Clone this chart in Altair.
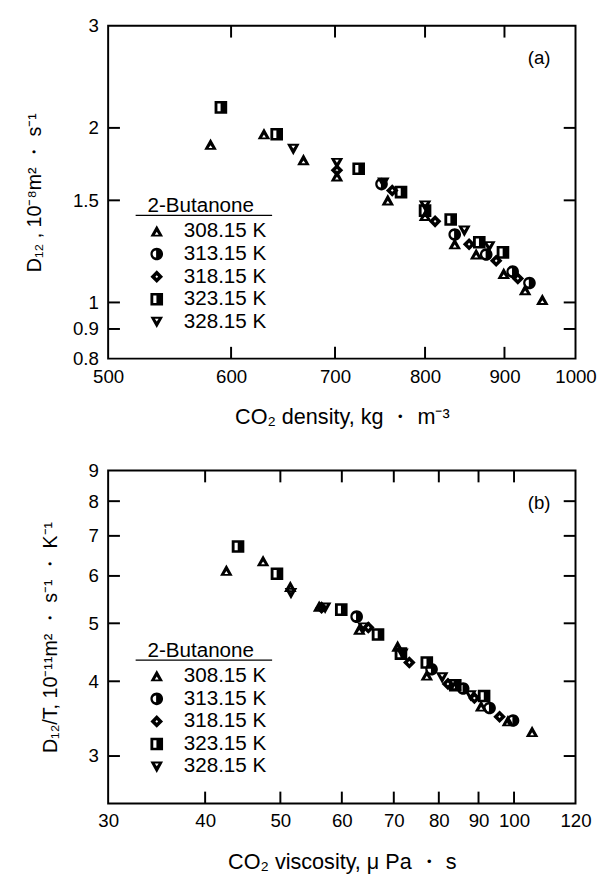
import altair as alt
import pandas as pd

temps = ["308.15 K", "313.15 K", "318.15 K", "323.15 K", "328.15 K"]

# ---- panel (a): CO2 density [kg/m3] vs D12 [1e-8 m2/s]
dens_308 = [582, 630, 668, 702, 757, 800, 836, 863, 899, 928, 952]
d12_308 = [1.87, 1.95, 1.76, 1.65, 1.50, 1.41, 1.26, 1.21, 1.12, 1.05, 1.01]
dens_313 = [750, 836, 876, 911, 934]
d12_313 = [1.60, 1.31, 1.21, 1.13, 1.08]
dens_318 = [702, 762, 812, 854, 889, 918]
d12_318 = [1.69, 1.56, 1.38, 1.26, 1.18, 1.10]
dens_323 = [591, 642, 725, 772, 800, 831, 867, 898]
d12_323 = [2.17, 1.95, 1.70, 1.55, 1.44, 1.39, 1.27, 1.22]
dens_328 = [658, 702, 752, 800, 848, 880]
d12_328 = [1.84, 1.74, 1.61, 1.47, 1.33, 1.25]

# ---- panel (b): CO2 viscosity [uPa s] vs D12/T [1e-11 m2/(s K)]
visc_308 = [42.6, 47.5, 51.5, 56.1, 63.2, 70.8, 77.2, 84.0, 90.7, 98.2, 105.5]
dt_308 = [6.12, 6.35, 5.75, 5.33, 4.88, 4.57, 4.09, 3.94, 3.63, 3.43, 3.29]
visc_313 = [62.7, 78.3, 86.0, 93.0, 99.7]
dt_313 = [5.13, 4.19, 3.89, 3.61, 3.44]
visc_318 = [56.5, 64.9, 73.3, 82.2, 88.9, 95.8]
dt_318 = [5.31, 4.92, 4.30, 3.96, 3.75, 3.49]
visc_323 = [44.1, 49.5, 59.9, 66.8, 71.5, 77.2, 84.0, 91.5]
dt_323 = [6.72, 6.05, 5.27, 4.79, 4.45, 4.30, 3.94, 3.78]
visc_328 = [51.6, 57.1, 64.0, 71.8, 80.8, 87.9]
dt_328 = [5.62, 5.31, 4.92, 4.45, 4.06, 3.79]

# axis tick labels and inner tick marks
a_xlabels = [500, 600, 700, 800, 900, 1000]
a_ylabels = [0.8, 0.9, 1, 1.5, 2, 3]
a_xticks = [600, 700, 800, 900]
a_yticks = [0.9, 1, 1.5, 2]
b_xlabels = [30, 40, 50, 60, 70, 80, 90, 100, 120]
b_ylabels = [3, 4, 5, 6, 7, 8, 9]
b_xticks = [40, 50, 60, 70, 80, 90, 100]
b_yticks = [3, 4, 5, 6, 7, 8]

legend_title = "2-Butanone"

# marker glyphs: filled outlines with small holes (opposite winding)
shapes = [
    "M0,-1L1,0.8L-1,0.8Z M0,0.05L-0.3,0.5L0.3,0.5Z",
    "M-1,0A1,1 0 1,1 1,0A1,1 0 1,1 -1,0Z M-0.1,-0.55A0.55,0.55 0 0,0 -0.1,0.55Z",
    "M0,-1L1,0L0,1L-1,0Z M0,-0.22L-0.22,0L0,0.22L0.22,0Z",
    "M-1,-1L1,-1L1,1L-1,1Z M-0.55,-0.6L-0.55,0.6L-0.05,0.6L-0.05,-0.6Z",
    "M-1,-0.8L1,-0.8L0,1Z M-0.3,-0.5L0,-0.05L0.3,-0.5Z",
]

FONT = "Liberation Sans"
W, H = 476, 339
TL = 12
MS = 165


def build(xs, ys):
    rows = []
    for t, xv, yv in zip(temps, xs, ys):
        for a, b in zip(xv, yv):
            rows.append({"T": t, "x": a, "y": b})
    return pd.DataFrame(rows)


def panel(df, xdom, ydom, xlabels, ylabels, xticks, yticks, xtitle, ytitle, tag, xf, yf):
    xs = alt.Scale(type="log", domain=xdom, nice=False)
    ys = alt.Scale(type="log", domain=ydom, nice=False)
    xax = alt.Axis(values=xlabels, format=xf, ticks=False, domain=False, grid=False,
                   labelFlush=False, labelOverlap=False, labelPadding=9,
                   labelFontSize=19, labelFont=FONT, labelColor="black",
                   title=xtitle, titleFontSize=22, titleFont=FONT,
                   titleFontWeight="normal", titlePadding=21, titleColor="black")
    yax = alt.Axis(values=ylabels, format=yf, ticks=False, domain=False, grid=False,
                   labelFlush=False, labelOverlap=False, labelPadding=10,
                   labelFontSize=19, labelFont=FONT, labelColor="black",
                   title=ytitle, titleFontSize=20, titleFont=FONT,
                   titleFontWeight="normal", titlePadding=28, titleColor="black")

    pts = alt.Chart(df).mark_point(filled=True, size=MS, opacity=1, strokeWidth=0).encode(
        x=alt.X("x:Q", scale=xs, axis=xax),
        y=alt.Y("y:Q", scale=ys, axis=yax),
        color=alt.value("black"),
        shape=alt.Shape("T:N", scale=alt.Scale(domain=temps, range=shapes),
                        legend=alt.Legend(title=None, orient="none",
                                          legendX=39, legendY=199, padding=0,
                                          labelFontSize=21,
                                          labelFont=FONT, labelColor="black",
                                          labelOffset=17, rowPadding=1,
                                          symbolSize=MS, symbolFillColor="black",
                                          symbolStrokeWidth=0, symbolOpacity=1)),
    )
    # inward tick marks on all four sides
    xt = pd.DataFrame({"x": xticks})
    yt = pd.DataFrame({"y": yticks})
    tk = dict(color="black", thickness=2, size=TL, opacity=1)
    bx = alt.Chart(xt).mark_tick(orient="vertical", **tk).encode(
        x=alt.X("x:Q", scale=xs), y=alt.value(H - TL / 2))
    tx = alt.Chart(xt).mark_tick(orient="vertical", **tk).encode(
        x=alt.X("x:Q", scale=xs), y=alt.value(TL / 2))
    ly = alt.Chart(yt).mark_tick(orient="horizontal", **tk).encode(
        y=alt.Y("y:Q", scale=ys), x=alt.value(TL / 2))
    ry = alt.Chart(yt).mark_tick(orient="horizontal", **tk).encode(
        y=alt.Y("y:Q", scale=ys), x=alt.value(W - TL / 2))
    under = alt.Chart(pd.DataFrame({"k": [0]})).mark_rule(color="black", strokeWidth=1.3).encode(
        x=alt.value(28), x2=alt.value(167), y=alt.value(193))
    ltitle = alt.Chart(pd.DataFrame({"t": [legend_title]})).mark_text(
        fontSize=21, font=FONT, color="black", align="left", baseline="alphabetic").encode(
        text="t:N", x=alt.value(40), y=alt.value(190))
    lab = alt.Chart(pd.DataFrame({"t": [tag]})).mark_text(
        fontSize=19, font=FONT, color="black").encode(
        text="t:N", x=alt.value(439), y=alt.value(33))
    return alt.layer(pts, bx, tx, ly, ry, under, ltitle, lab).properties(width=W, height=H)


dfa = build([dens_308, dens_313, dens_318, dens_323, dens_328],
            [d12_308, d12_313, d12_318, d12_323, d12_328])
dfb = build([visc_308, visc_313, visc_318, visc_323, visc_328],
            [dt_308, dt_313, dt_318, dt_323, dt_328])

pa = panel(dfa, [500, 1000], [0.8, 3], a_xlabels, a_ylabels, a_xticks, a_yticks,
           "CO₂ density, kg ・ m⁻³", "D₁₂ , 10⁻⁸m² ・ s⁻¹", "(a)", "d", "~g")
pb = panel(dfb, [30, 120], [2.5, 9], b_xlabels, b_ylabels, b_xticks, b_yticks,
           "CO₂ viscosity, μ Pa ・ s", "D₁₂/T, 10⁻¹¹m² ・ s⁻¹ ・ K⁻¹", "(b)", "d", "d")

chart = alt.vconcat(pa, pb, spacing=33).resolve_scale(
    x="independent", y="independent", shape="independent"
).resolve_legend(shape="independent").configure(
    padding={"left": 16, "top": 0, "right": 5, "bottom": 5},
    background="white",
    view=alt.ViewConfig(stroke="black", strokeWidth=2),
)

chart.save("out.html", embed_options={"renderer": "svg", "actions": False})
